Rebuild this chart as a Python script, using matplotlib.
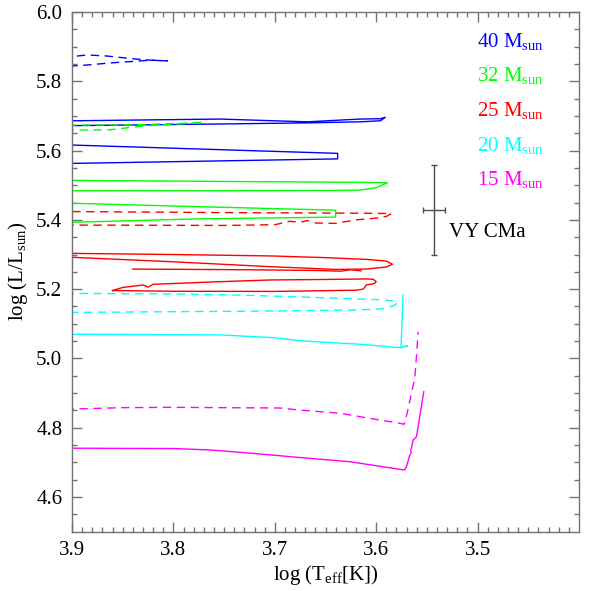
import matplotlib
matplotlib.use('Agg')
import matplotlib.pyplot as plt
import numpy as np

plt.rcParams['font.family'] = 'Liberation Serif'
plt.rcParams['mathtext.fontset'] = 'custom'
plt.rcParams['mathtext.rm'] = 'Liberation Serif'
plt.rcParams['mathtext.it'] = 'Liberation Serif:italic'

# 40 Msun
m40_dash_t = [3.93, 3.901, 3.885, 3.866, 3.853, 3.836, 3.823, 3.806, 3.823, 3.836, 3.853, 3.866, 3.885, 3.901, 3.93]
m40_dash_l = [5.843, 5.844, 5.847, 5.852, 5.855, 5.858, 5.861, 5.859, 5.861, 5.864, 5.869, 5.873, 5.876, 5.871, 5.870]
m40_a_t = [3.92, 3.90, 3.747, 3.668, 3.616, 3.596, 3.591, 3.596, 3.616, 3.668, 3.754, 3.90, 3.92]
m40_a_l = [5.671, 5.672, 5.677, 5.680, 5.683, 5.686, 5.696, 5.692, 5.691, 5.683, 5.691, 5.686, 5.686]
m40_b_t = [3.92, 3.90, 3.638, 3.638, 3.90, 3.92]
m40_b_l = [5.617, 5.616, 5.592, 5.576, 5.563, 5.562]

# 32 Msun
m32_dash_t = [3.92, 3.90, 3.863, 3.83, 3.80, 3.781, 3.771, 3.79, 3.82, 3.85, 3.88, 3.92]
m32_dash_l = [5.659, 5.659, 5.660, 5.671, 5.676, 5.679, 5.682, 5.679, 5.676, 5.674, 5.674, 5.673]
m32_a_t = [3.92, 3.90, 3.75, 3.64, 3.616, 3.60, 3.589, 3.60, 3.70, 3.80, 3.90, 3.92]
m32_a_l = [5.484, 5.484, 5.484, 5.485, 5.486, 5.493, 5.507, 5.508, 5.510, 5.512, 5.514, 5.514]
m32_b_t = [3.92, 3.90, 3.774, 3.64, 3.64, 3.774, 3.90, 3.92]
m32_b_l = [5.393, 5.393, 5.403, 5.408, 5.428, 5.438, 5.448, 5.449]

# 25 Msun
m25_dash_t = [3.92, 3.90, 3.75, 3.70, 3.685, 3.675, 3.668, 3.66, 3.64, 3.62, 3.60, 3.59, 3.585, 3.60, 3.75, 3.90, 3.92]
m25_dash_l = [5.385, 5.385, 5.384, 5.386, 5.396, 5.393, 5.398, 5.391, 5.390, 5.400, 5.405, 5.410, 5.418, 5.419, 5.421, 5.424, 5.424]
m25_a_t = [3.92, 3.80, 3.705, 3.65, 3.61, 3.59, 3.584, 3.59, 3.61, 3.64, 3.705, 3.80, 3.90, 3.92]
m25_a_l = [5.304, 5.300, 5.296, 5.291, 5.286, 5.281, 5.272, 5.264, 5.258, 5.257, 5.265, 5.279, 5.292, 5.295]
m25_b_t = [3.84, 3.75, 3.705, 3.66, 3.635, 3.625, 3.615]
m25_b_l = [5.258, 5.2565, 5.2554, 5.254, 5.252, 5.256, 5.253]
m25_c_t = [3.86, 3.85, 3.83, 3.825, 3.82, 3.76, 3.705, 3.65, 3.61, 3.603, 3.600, 3.602, 3.61, 3.611, 3.613, 3.62, 3.70, 3.80, 3.86]
m25_c_l = [5.196, 5.205, 5.212, 5.206, 5.214, 5.221, 5.2265, 5.228, 5.2295, 5.2286, 5.222, 5.216, 5.212, 5.206, 5.200, 5.197, 5.1935, 5.194, 5.196]

# 20 Msun
m20_dash_t = [3.92, 3.90, 3.80, 3.734, 3.65, 3.593, 3.583, 3.579, 3.583, 3.595, 3.62, 3.70, 3.80, 3.90, 3.92]
m20_dash_l = [5.188, 5.188, 5.186, 5.183, 5.175, 5.169, 5.166, 5.160, 5.152, 5.143, 5.140, 5.137, 5.135, 5.133, 5.133]
m20_t = [3.92, 3.90, 3.754, 3.70, 3.675, 3.616, 3.576, 3.569, 3.5755, 3.5748, 3.5735]
m20_l = [5.070, 5.070, 5.068, 5.060, 5.051, 5.041, 5.031, 5.036, 5.034, 5.090, 5.183]

# 15 Msun
m15_dash_t = [3.92, 3.90, 3.85, 3.80, 3.75, 3.695, 3.675, 3.636, 3.606, 3.577, 3.5725, 3.5695, 3.5652, 3.562, 3.5603, 3.5587]
m15_dash_l = [4.854, 4.854, 4.858, 4.859, 4.858, 4.857, 4.851, 4.842, 4.827, 4.813, 4.810, 4.842, 4.900, 4.943, 5.005, 5.077]
m15_t = [3.92, 3.90, 3.80, 3.764, 3.725, 3.675, 3.626, 3.572, 3.5701, 3.5669, 3.5655, 3.5660, 3.5652, 3.5636, 3.5603, 3.5531]
m15_l = [4.741, 4.741, 4.740, 4.736, 4.727, 4.714, 4.702, 4.678, 4.688, 4.721, 4.728, 4.736, 4.741, 4.765, 4.774, 4.904]

masses = ['40', '32', '25', '20', '15']
colors = ['#0000ff', '#00ff00', '#ff0000', '#00ffff', '#ff00ff']
label_l = [5.9, 5.8, 5.7, 5.6, 5.5]

vy_t, vy_terr = 3.543, 0.0113
vy_l, vy_lerr = 5.429, 0.129

dash = (0, (6, 4))
fig = plt.figure(figsize=(5.91, 5.91), dpi=100)
ax = fig.add_axes([72 / 591, 59.3 / 591, 507 / 591, 519.7 / 591])

tracks = [
    (m40_dash_t, m40_dash_l, colors[0], dash),
    (m40_a_t, m40_a_l, colors[0], '-'),
    (m40_b_t, m40_b_l, colors[0], '-'),
    (m32_dash_t, m32_dash_l, colors[1], dash),
    (m32_a_t, m32_a_l, colors[1], '-'),
    (m32_b_t, m32_b_l, colors[1], '-'),
    (m25_dash_t, m25_dash_l, colors[2], dash),
    (m25_a_t, m25_a_l, colors[2], '-'),
    (m25_b_t, m25_b_l, colors[2], '-'),
    (m25_c_t, m25_c_l, colors[2], '-'),
    (m20_dash_t, m20_dash_l, colors[3], dash),
    (m20_t, m20_l, colors[3], '-'),
    (m15_dash_t, m15_dash_l, colors[4], dash),
    (m15_t, m15_l, colors[4], '-'),
]
for t, l, c, ls in tracks:
    ax.plot(t, l, color=c, linestyle=ls, lw=1.0)

ax.errorbar([vy_t], [vy_l], xerr=[vy_terr], yerr=[vy_lerr], color='0.3',
            lw=1.0, capsize=2.5, capthick=1.0)
ax.text(3.528, 5.35, 'VY CMa', fontsize=15, va='baseline')

for m, c, yl in zip(masses, colors, label_l):
    ax.text(3.501, yl, m + r' M$_{\rm sun}$', color=c, fontsize=15, va='baseline')

ax.set_xlim(3.9, 3.4)
ax.set_ylim(4.5, 6.0)
ax.set_xticks([3.9, 3.8, 3.7, 3.6, 3.5])
ax.set_xticklabels(['3.9', '3.8', '3.7', '3.6', '3.5'])
ax.set_xticks(np.arange(3.41, 3.9, 0.01), minor=True)
ax.set_yticks(np.arange(4.6, 6.01, 0.2))
ax.set_yticklabels(['%.1f' % v for v in np.arange(4.6, 6.01, 0.2)])
ax.set_yticks(np.arange(4.55, 6.0, 0.05), minor=True)
ax.tick_params(which='both', direction='in', top=True, right=True, color='0.45',
               labelsize=15, width=1.0)
ax.tick_params(which='major', length=7.5, pad=7)
ax.tick_params(which='minor', length=3.6)
for s in ax.spines.values():
    s.set_color('0.45')
    s.set_linewidth(1.0)

ax.set_xlabel(r'log (T$_{\rm eff}$[K])', fontsize=15, labelpad=2)
ax.set_ylabel(r'log (L/L$_{\rm sun}$)', fontsize=15, labelpad=4)

fig.savefig('out.png', dpi=100)
